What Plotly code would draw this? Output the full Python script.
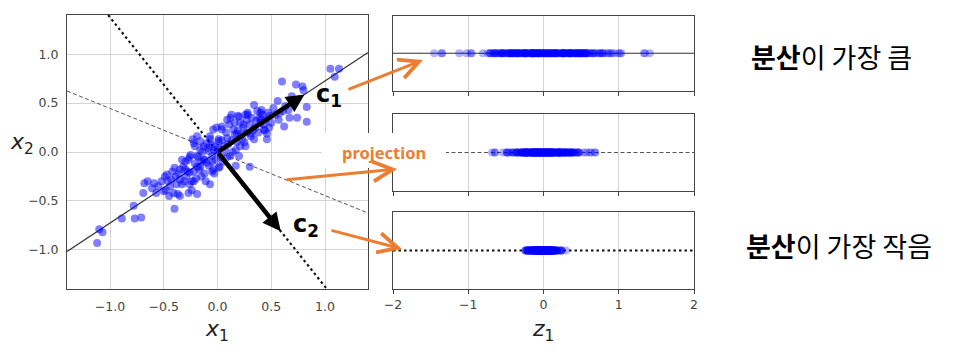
import plotly.graph_objects as go
import numpy as np

# ---------------- data ----------------
X1 = [-1.12,-1.10,-1.07,-0.89,-0.77,-0.71,-0.78,-0.69,-0.68,-0.65,
      -0.59,-0.61,-0.57,-0.48,-0.47,-0.45,-0.40,-0.41,-0.37,-0.35,
      -0.43,-0.39,-0.35,-0.33,-0.29,-0.27,-0.24,-0.19,-0.24,-0.32,
      -0.27,-0.25,-0.23,-0.21,-0.16,-0.13,-0.19,-0.16,-0.12,-0.10,
      -0.05,-0.04,-0.03,0.02,-0.08,-0.12,-0.07,-0.02,0.01,-0.01,
      0.04,0.12,0.15,0.16,0.09,0.06,0.12,0.17,0.20,0.21,
      0.23,0.30,0.24,0.27,0.19,0.26,0.31,0.34,0.35,0.34,
      0.37,0.39,0.41,0.43,0.46,0.46,0.48,0.49,0.56,0.60,
      0.61,0.62,0.66,0.67,0.69,0.73,0.74,0.79,0.80,0.83,
      0.83,1.05,1.09,1.13,0.57,
      -0.49,-0.40,-0.35,-0.44,-0.30,-0.26,-0.22,-0.19,-0.16,-0.13,
      -0.10,-0.07,-0.04,0.01,0.04,0.09,0.13,0.20,0.28,0.24,
      0.18,0.31,0.26,0.17,0.09,0.01,-0.05,-0.07,-0.15,-0.22,
      -0.26,-0.19,-0.33,0.40,0.43,0.40,
      -0.55,-0.52,-0.50,-0.46,-0.42,-0.38,-0.36,-0.31,-0.30,-0.28,
      -0.26,-0.22,-0.21,-0.20,-0.18,-0.17,-0.15,-0.14,-0.11,-0.09,
      -0.08,-0.06,-0.05,-0.03,-0.02,0.00,0.01,0.03,0.04,0.05,
      0.07,0.08,0.10,0.11,0.13,0.14,0.16,0.18,0.19,0.21,
      0.22,0.25,0.27,0.28,0.30,0.32,0.33,0.36,0.38,0.40,
      0.42,0.44,0.45,0.47,0.50,0.52,0.54,0.58,0.63,0.70]
X2 = [-0.93,-0.79,-0.82,-0.68,-0.68,-0.67,-0.55,-0.42,-0.32,-0.30,
      -0.32,-0.37,-0.42,-0.39,-0.23,-0.45,-0.58,-0.42,-0.43,-0.45,
      -0.28,-0.25,-0.18,-0.33,-0.25,-0.42,-0.39,-0.43,-0.30,-0.15,
      -0.08,-0.03,0.13,0.06,0.11,0.06,-0.04,-0.15,-0.22,-0.11,
      -0.04,-0.18,-0.22,-0.15,0.01,-0.08,0.13,0.06,0.11,0.25,
      0.26,0.35,0.23,0.18,0.14,0.06,-0.04,-0.14,-0.04,0.06,
      0.13,-0.15,0.25,0.33,0.37,0.38,0.19,0.13,0.25,0.48,
      0.42,0.35,0.43,0.28,0.19,0.13,0.25,0.37,0.52,0.72,
      0.42,0.26,0.43,0.35,0.57,0.69,0.35,0.67,0.63,0.46,
      0.31,0.85,0.77,0.85,0.33,
      -0.25,-0.16,-0.28,-0.35,-0.18,-0.05,0.09,0.16,0.02,-0.08,
      0.09,0.16,0.23,0.13,0.23,0.33,0.38,0.36,0.38,0.28,
      0.19,0.16,0.06,0.02,-0.05,-0.16,-0.20,-0.33,-0.25,-0.30,
      -0.21,-0.15,-0.08,0.33,0.23,0.40,
      -0.35,-0.30,-0.40,-0.30,-0.20,-0.33,-0.22,-0.30,-0.10,-0.20,
      -0.33,-0.20,-0.12,-0.27,-0.05,-0.18,-0.10,0.00,-0.30,0.04,
      -0.14,0.08,-0.10,0.02,-0.08,0.00,0.04,-0.05,0.12,-0.10,
      0.02,0.20,0.08,0.28,0.12,0.00,0.30,0.10,0.22,0.30,
      0.18,0.10,0.20,0.40,0.28,0.35,0.22,0.32,0.20,0.30,
      0.38,0.22,0.33,0.40,0.30,0.45,0.38,0.40,0.47,0.50]
assert len(X1) == len(X2)

# unit directions of the three projection axes (c1, dashed axis, c2)
U1 = [0.809, 0.588]
U2 = [0.914, -0.407]
U3 = [0.588, -0.809]

LEFT_TICKS = [-1.0, -0.5, 0.0, 0.5, 1.0]
LEFT_TICKTEXT = ["−1.0", "−0.5", "0.0", "0.5", "1.0"]
RIGHT_TICKS = [-2, -1, 0, 1, 2]
RIGHT_TICKTEXT = ["−2", "−1", "0", "1", "2"]

# ---------------- figure ----------------
W, H = 957, 358
def fx(p): return p / W
def fy(p): return 1 - p / H

x1 = np.array(X1); x2 = np.array(X2)
Z = [x1 * u[0] + x2 * u[1] for u in (U1, U2, U3)]

fig = go.Figure()
LIM = 1.4
line_styles = [(U1, None, 1.2, "#333"), (U2, "4px,2.5px", 1.0, "#555"), (U3, "2.5px,3px", 2.2, "#111")]
for u, dash, wdt, col in line_styles:
    xs = [-LIM, LIM]
    ys = [v * u[1] / u[0] for v in xs]
    fig.add_trace(go.Scatter(x=xs, y=ys, mode="lines", xaxis="x", yaxis="y",
                             line=dict(color=col, width=wdt, dash=dash), hoverinfo="skip"))
fig.add_trace(go.Scatter(x=X1, y=X2, mode="markers", xaxis="x", yaxis="y",
                         marker=dict(color="blue", opacity=0.5, size=8, line=dict(width=0))))

for i, (z, (u, dash, wdt, col)) in enumerate(zip(Z, line_styles)):
    ax = "x%d" % (i + 2); ay = "y%d" % (i + 2)
    fig.add_trace(go.Scatter(x=[-2, 2], y=[0, 0], mode="lines", xaxis=ax, yaxis=ay,
                             line=dict(color=col, width=wdt, dash=dash), hoverinfo="skip"))
    fig.add_trace(go.Scatter(x=z, y=np.zeros(len(z)), mode="markers", xaxis=ax, yaxis=ay,
                             marker=dict(color="blue", opacity=0.3, size=8, line=dict(width=0))))

tickfont = dict(family="DejaVu Sans", size=12.5, color="#444")
common = dict(showline=True, mirror=True, linecolor="#444", linewidth=1, automargin=False,
              zeroline=False, gridcolor="#d4d4d4", gridwidth=1)

layout = dict(
    width=W, height=H, margin=dict(l=0, r=0, t=0, b=0, pad=0, autoexpand=False),
    paper_bgcolor="white", plot_bgcolor="white", showlegend=False,
    xaxis=dict(domain=[fx(67), fx(368)], range=[-LIM, LIM], anchor="y",
               tickvals=LEFT_TICKS, ticktext=LEFT_TICKTEXT, tickfont=tickfont,
               ticks="outside", ticklen=6, tickcolor="rgba(0,0,0,0)", showgrid=True, **common),
    yaxis=dict(domain=[fy(289), fy(15)], range=[-LIM, LIM], anchor="x",
               tickvals=LEFT_TICKS, ticktext=LEFT_TICKTEXT, tickfont=tickfont,
               ticks="outside", ticklen=5, tickcolor="rgba(0,0,0,0)", showgrid=True, **common),
)
right_rows = [(15.5, 91), (114, 191), (212, 289)]
for i, (top, bot) in enumerate(right_rows):
    n = i + 2
    layout["xaxis%d" % n] = dict(domain=[fx(393), fx(694)], range=[-2, 2], anchor="y%d" % n,
                                 tickvals=RIGHT_TICKS, ticktext=RIGHT_TICKTEXT, tickfont=tickfont,
                                 showticklabels=(n == 4), ticks="outside", ticklen=4, tickcolor="#444",
                                 showgrid=True, **common)
    layout["yaxis%d" % n] = dict(domain=[fy(bot), fy(top)], range=[-1, 1], anchor="x%d" % n,
                                 showticklabels=False, ticks="", showgrid=False, **common)
fig.update_layout(**layout)

# white box behind the "projection" label
fig.add_shape(type="rect", xref="paper", yref="paper", x0=fx(322), x1=fx(446), y0=fy(168), y1=fy(133),
              fillcolor="white", line=dict(width=0), layer="above")

def label(px, py, text, font):
    return dict(x=fx(px), y=fy(py), xref="paper", yref="paper", showarrow=False,
                xanchor="center", yanchor="middle", text=text, font=font)

ann = []
# principal component arrows
for u in (U1, U3):
    ann.append(dict(x=u[0], y=u[1], ax=0, ay=0, xref="x", yref="y", axref="x", ayref="y",
                    text="", showarrow=True, arrowhead=2, arrowsize=0.8, arrowwidth=4.5, arrowcolor="black"))
ann.append(label(329, 95, "<b>c</b><sub><b>1</b></sub>", dict(family="DejaVu Sans", size=24, color="black")))
ann.append(label(306, 226, "<b>c</b><sub><b>2</b></sub>", dict(family="DejaVu Sans", size=24, color="black")))
# axis labels
ann.append(label(217, 330, "<i>x</i><sub>1</sub>", dict(family="DejaVu Sans", size=22, color="#222")))
ann.append(label(22, 143, "<i>x</i><sub>2</sub>", dict(family="DejaVu Sans", size=22, color="#222")))
ann.append(label(543, 330, "<i>z</i><sub>1</sub>", dict(family="DejaVu Sans", size=22, color="#222")))
# projection label
ORANGE = "#ED7D31"
ann.append(label(384, 152, "<b>projection</b>", dict(family="Noto Sans", size=16.5, color=ORANGE)))
# orange arrows (tail -> tip)
for (tx, ty), (hx, hy) in [((347, 90), (423, 60)), ((285, 180), (397, 169)), ((330, 230), (402, 249))]:
    ann.append(dict(x=fx(hx), y=fy(hy), xref="paper", yref="paper", ax=tx - hx, ay=ty - hy,
                    axref="pixel", ayref="pixel", text="", showarrow=True, arrowhead=5,
                    arrowsize=1.3, arrowwidth=3, arrowcolor=ORANGE))
# Korean notes
ann.append(label(831, 56, "<b>분산</b>이 가장 큼", dict(family="Noto Sans CJK KR", size=27, color="black")))
ann.append(label(839, 245, "<b>분산</b>이 가장 작음", dict(family="Noto Sans CJK KR", size=27, color="black")))
fig.update_layout(annotations=ann)

fig.write_html("out.html", config={"displayModeBar": False},
               post_script="document.body.style.margin='0px';")
